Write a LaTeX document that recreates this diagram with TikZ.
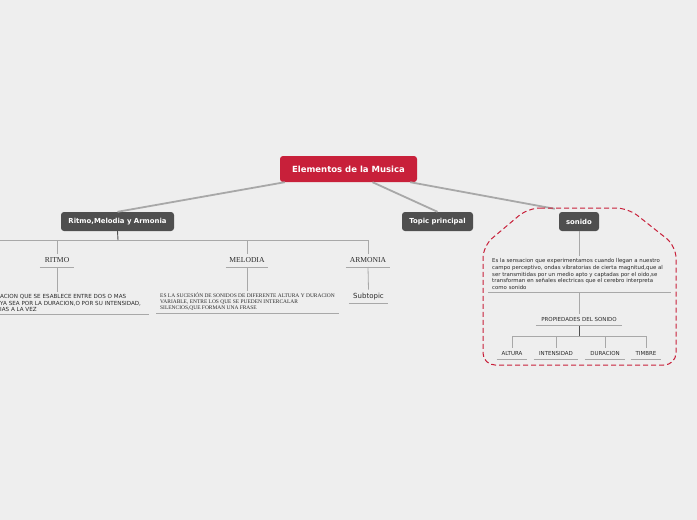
\documentclass[tikz,border=0pt]{standalone}
\usepackage{fontspec}
\usepackage{tikz}
\usetikzlibrary{positioning}
\newfontfamily\mapsans{DejaVu Sans}
\newfontfamily\mapserif{Liberation Serif}
\definecolor{bgcol}{HTML}{EEEEEE}
\definecolor{maincol}{HTML}{C8203A}
\definecolor{topcol}{HTML}{4F4F4F}
\definecolor{linecol}{HTML}{A8A8A8}
\definecolor{txtcol}{HTML}{2A2A2A}

\begin{document}
\begin{tikzpicture}[x=1pt,y=-1pt,
          mainbox/.style={fill=maincol,text=white,rounded corners=3pt,font=\mapsans\bfseries\fontsize{8.5}{9}\selectfont,minimum width=137pt,minimum height=26pt},
          topbox/.style={fill=topcol,text=white,rounded corners=3pt,font=\mapsans\bfseries\fontsize{6.9}{8}\selectfont,minimum height=19pt},
          seriflbl/.style={anchor=south,inner sep=0pt,minimum height=13pt,text=txtcol,font=\mapserif\fontsize{7.6}{8}\selectfont},
          sanslbl/.style={anchor=south,inner sep=0pt,minimum height=11pt,text=txtcol,font=\mapsans\fontsize{5.5}{6}\selectfont},
          para/.style={anchor=south west,align=left,inner xsep=0pt,inner ysep=2pt,text=txtcol},
          mainline/.style={linecol,line width=1.8pt},
          branch/.style={linecol,line width=0.8pt},
          stem/.style={topcol,line width=0.9pt},
          uline/.style={linecol,line width=0.8pt}
        ]
        \fill[bgcol] (0,0) rectangle (697,520);
        \useasboundingbox (0,0) rectangle (697,520);
        % main topics
        \node[mainbox] (musica) at (348.5,169) {Elementos de la Musica};
        \node[topbox,minimum width=113pt] (rma) at (117.5,221.5) {Ritmo,Melodia y Armonia};
        \node[topbox,minimum width=71pt] (topic) at (437.5,221.5) {Topic principal};
        \node[topbox,minimum width=40pt] (sonido) at (579,221.5) {sonido};
        \draw[mainline] ([xshift=5pt]musica.south west) -- (rma.north);
        \draw[mainline] ([xshift=24pt]musica.south) -- (topic.north);
        \draw[mainline] ([xshift=-7pt]musica.south east) -- ([shift={(-4,-3)}]sonido.north west);
        % ritmo, melodia, armonia
        \node[seriflbl,minimum width=34pt] (ritmo) at (57,267) {RITMO};
        \node[seriflbl,minimum width=42pt] (melodia) at (247,267) {MELODIA};
        \node[seriflbl,minimum width=44pt] (armonia) at (368,267) {ARMONIA};
        \node[sanslbl,minimum width=39pt,minimum height=13pt,font=\mapsans\fontsize{7}{7}\selectfont] (subtopic) at (368.5,303) {Subtopic};
        \node[para,font=\mapsans\fontsize{5.6}{6.5}\selectfont] (ritmotxt) at (0,314)
          {ACION QUE SE ESABLECE ENTRE DOS O MAS\\YA SEA POR LA DURACION,O POR SU INTENSIDAD,\\IAS A LA VEZ};
        \node[para,font=\mapserif\fontsize{5.45}{6}\selectfont] (melotxt) at (160,313)
          {ES LA SUCESIÓN DE SONIDOS DE DIFERENTE ALTURA Y DURACION\\VARIABLE, ENTRE LOS QUE SE PUEDEN INTERCALAR\\SILENCIOS,QUE FORMAN UNA FRASE};
        \coordinate (rbus) at (118,240);
        \coordinate (redge) at (0,240);
        \draw[branch] (redge) -- (rbus) -| (armonia.north);
        \draw[branch] (rbus) -| (ritmo.north);
        \draw[branch] (rbus) -| (melodia.north);
        \draw[stem] (rma.south) -- (rbus);
        \draw[branch] (ritmo.south) -- (ritmo.south |- ritmotxt.north);
        \draw[branch] (melodia.south) -- (melodia.south |- melotxt.north);
        \draw[branch] (armonia.south) -- (subtopic.north);
        \draw[uline] (ritmotxt.south west) -- ++(149,0);
        \draw[uline] ([xshift=-4pt]melotxt.south west) -- ++(183,0);
        % sonido
        \draw[maincol,dash pattern=on 5pt off 3pt,rounded corners=12pt,line width=1pt]
          (528,208) -- (628,208) -- (676,246) -- (676,365) -- (483,365) -- (483,246) -- cycle;
        \node[para,font=\mapsans\fontsize{5.4}{6.8}\selectfont] (sontxt) at (492,292)
          {Es la sensacion que experimentamos cuando llegan a nuestro\\campo perceptivo, ondas vibratorias de cierta magnitud,que al\\ser transmitidas por un medio apto y captadas por el oido,se\\transforman en señales electricas que el cerebro interpreta\\como sonido};
        \node[sanslbl,minimum width=86pt] (props) at (579,325) {PROPIEDADES DEL SONIDO};
        \node[sanslbl,minimum width=30pt] (altura) at (512,359) {ALTURA};
        \node[sanslbl,minimum width=44pt] (intensidad) at (556,359) {INTENSIDAD};
        \node[sanslbl,minimum width=40pt] (duracion) at (605,359) {DURACION};
        \node[sanslbl,minimum width=30pt] (timbre) at (646,359) {TIMBRE};
        \draw[branch] (sonido.south) -- (sonido.south |- sontxt.north);
        \draw[uline] ([xshift=-4pt]sontxt.south west) -- ++(183,0);
        \draw[branch] (props.north |- sontxt.south) -- (props.north);
        \coordinate (pbus) at (579,336);
        \foreach \n in {altura,intensidad,duracion,timbre}
          \draw[branch] (pbus) -| (\n.north);
        \draw[stem] (props.south) -- (pbus);
        \foreach \n in {ritmo,melodia,armonia,subtopic,props,altura,intensidad,duracion,timbre}
          \draw[uline] (\n.south west) -- (\n.south east);
      \end{tikzpicture}
\end{document}
